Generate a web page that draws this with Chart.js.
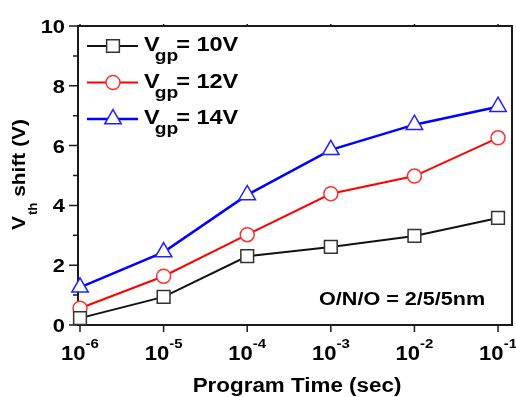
<!DOCTYPE html>
<html>
<head>
<meta charset="utf-8">
<script src="https://cdn.jsdelivr.net/npm/chart.js@4/dist/chart.umd.min.js"></script>
<style>
  html, body { margin: 0; padding: 0; background: #ffffff; }
  canvas { display: block; }
</style>
</head>
<body>
<canvas id="c" width="516" height="397"></canvas>
<script>
// ---- Data ----
const programTimes = [1e-6, 1e-5, 1e-4, 1e-3, 1e-2, 1e-1];   // seconds
const timeExponents = [-6, -5, -4, -3, -2, -1];              // x tick labels 10^n
const vgp10 = [0.23, 0.94, 2.30, 2.61, 2.98, 3.58];
const vgp12 = [0.56, 1.63, 3.02, 4.39, 4.98, 6.26];
const vgp14 = [1.26, 2.44, 4.35, 5.86, 6.70, 7.30];
const seriesLabels = ['10V', '12V', '14V'];
const yMajorTicks = [0, 2, 4, 6, 8, 10];
const yMinorTicks = [1, 3, 5, 7, 9];
const annotationText = 'O/N/O = 2/5/5nm';
const xTitle = 'Program Time (sec)';

const FONT = '"Liberation Sans", Arial, Helvetica, sans-serif';

function pts(vals) { return programTimes.map((t, i) => ({ x: t, y: vals[i] })); }

const styles = [
  { color: '#111111', marker: '#333333', pointStyle: 'rect', radius: 9, width: 2 },
  { color: '#ff0000', marker: '#ff3030', pointStyle: 'circle', radius: 7, width: 2 },
  { color: '#0000ff', marker: '#2020ff', pointStyle: 'triangle', radius: 9.5, width: 2.5 }
];
const seriesData = [vgp10, vgp12, vgp14];

const datasets = seriesData.map((vals, i) => ({
  label: 'Vgp= ' + seriesLabels[i],
  data: pts(vals),
  borderColor: styles[i].color,
  borderWidth: styles[i].width,
  pointStyle: styles[i].pointStyle,
  pointRadius: styles[i].radius,
  pointBackgroundColor: '#ffffff',
  pointBorderColor: styles[i].marker,
  pointBorderWidth: 1.5,
  tension: 0,
  fill: false,
  clip: false
}));

// draw a sequence of text runs (for sub/superscripts), horizontally stretched
function drawRuns(ctx, runs, x, y, align) {
  ctx.save();
  ctx.textBaseline = 'alphabetic';
  ctx.textAlign = 'left';
  let total = 0;
  const widths = runs.map(r => {
    ctx.font = 'bold ' + r.size + 'px ' + FONT;
    const w = ctx.measureText(r.t).width * (r.sx || 1) + (r.dx || 0);
    total += w;
    return w;
  });
  let cx = x;
  if (align === 'center') cx = x - total / 2;
  else if (align === 'right') cx = x - total;
  runs.forEach((r, i) => {
    ctx.font = 'bold ' + r.size + 'px ' + FONT;
    ctx.save();
    ctx.translate(cx + (r.dx || 0), y + (r.dy || 0));
    ctx.scale(r.sx || 1, 1);
    ctx.fillText(r.t, 0, 0);
    ctx.restore();
    cx += widths[i];
  });
  ctx.restore();
}

const decorPlugin = {
  id: 'decor',
  beforeDatasetsDraw(chart) {
    const ctx = chart.ctx;
    const a = chart.chartArea;
    const xs = chart.scales.x, ys = chart.scales.y;
    ctx.save();
    ctx.strokeStyle = '#1a1a1a';
    // frame
    ctx.lineWidth = 2;
    ctx.strokeRect(a.left, a.top, a.right - a.left, a.bottom - a.top);
    // y ticks
    ctx.lineWidth = 1.5;
    ctx.beginPath();
    yMajorTicks.forEach(v => {
      const py = ys.getPixelForValue(v);
      ctx.moveTo(a.left - 9, py); ctx.lineTo(a.left, py);
    });
    yMinorTicks.forEach(v => {
      const py = ys.getPixelForValue(v);
      ctx.moveTo(a.left - 5, py); ctx.lineTo(a.left, py);
    });
    // x ticks
    timeExponents.forEach((e, i) => {
      const px = xs.getPixelForValue(programTimes[i]);
      ctx.moveTo(px, a.bottom); ctx.lineTo(px, a.bottom + 7);
      ctx.moveTo(px, a.top); ctx.lineTo(px, a.top - 2);
    });
    ctx.stroke();
    ctx.restore();

    ctx.save();
    ctx.fillStyle = '#000000';
    // y tick labels
    yMajorTicks.forEach(v => {
      const py = ys.getPixelForValue(v);
      drawRuns(ctx, [{ t: String(v), size: 19, sx: 1.15 }], a.left - 13, py + 7, 'right');
    });
    // x tick labels 10^n
    timeExponents.forEach((e, i) => {
      const px = xs.getPixelForValue(programTimes[i]);
      drawRuns(ctx, [
        { t: '10', size: 21, sx: 1.05 },
        { t: String(e), size: 12, sx: 1.25, dy: -12 }
      ], px, a.bottom + 35, 'center');
    });
    // x title
    drawRuns(ctx, [{ t: xTitle, size: 20, sx: 1.12 }], (a.left + a.right) / 2 + 2, 392, 'center');
    // y title (rotated)
    ctx.save();
    ctx.translate(25, (a.top + a.bottom) / 2 - 1);
    ctx.rotate(-Math.PI / 2);
    drawRuns(ctx, [
      { t: 'V', size: 19, sx: 1.1 },
      { t: 'th', size: 12, sx: 1.1, dy: 12, dx: 1 },
      { t: ' shift (V)', size: 19, sx: 1.1 }
    ], 0, 0, 'center');
    ctx.restore();
    // annotation
    drawRuns(ctx, [{ t: annotationText, size: 18, sx: 1.2 }], 319, 305, 'left');
    ctx.restore();
  },
  afterDatasetsDraw(chart) {
    const ctx = chart.ctx;
    // legend
    styles.forEach((s, i) => {
      const ly = 46 + i * 36.5;
      ctx.save();
      ctx.strokeStyle = s.color;
      ctx.lineWidth = s.width;
      ctx.beginPath();
      ctx.moveTo(87, ly); ctx.lineTo(138, ly);
      ctx.stroke();
      ctx.fillStyle = '#ffffff';
      ctx.strokeStyle = s.marker;
      ctx.lineWidth = 1.5;
      Chart.helpers.drawPoint(ctx, { pointStyle: s.pointStyle, radius: s.radius, rotation: 0, borderWidth: 1.5 }, 113, ly);
      ctx.restore();
      ctx.save();
      ctx.fillStyle = '#000000';
      drawRuns(ctx, [
        { t: 'V', size: 21, sx: 1.12 },
        { t: 'gp', size: 16, sx: 1.2, dy: 10, dx: -5 },
        { t: '= ' + seriesLabels[i], size: 21, sx: 1.12, dx: -2 }
      ], 144, ly + 5, 'left');
      ctx.restore();
    });
  }
};

new Chart(document.getElementById('c'), {
  type: 'line',
  data: { datasets },
  options: {
    responsive: false,
    animation: false,
    devicePixelRatio: 1,
    layout: { autoPadding: false, padding: { left: 0, top: 26, right: 4, bottom: 0 } },
    plugins: { legend: { display: false }, tooltip: { enabled: false } },
    scales: {
      x: {
        type: 'logarithmic',
        min: Math.pow(10, -6.024),
        max: Math.pow(10, -0.833),
        ticks: { display: false },
        grid: { display: false },
        border: { display: false },
        afterFit: s => { s.height = 72; }
      },
      y: {
        type: 'linear',
        min: 0,
        max: 10,
        ticks: { display: false },
        grid: { display: false },
        border: { display: false },
        afterFit: s => { s.width = 78; }
      }
    }
  },
  plugins: [decorPlugin]
});
</script>
</body>
</html>
